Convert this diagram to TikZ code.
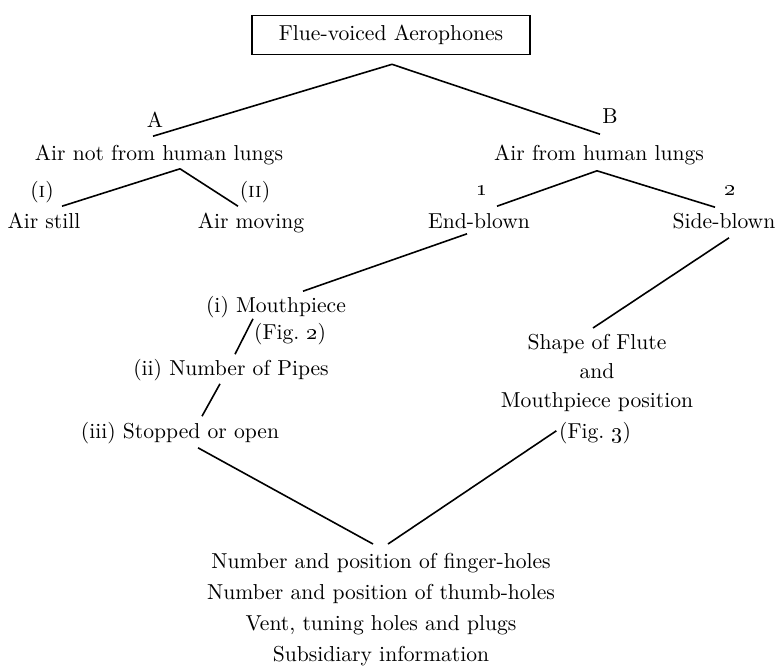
\documentclass[tikz,border=0pt]{standalone}
\usepackage{tikz}
\usetikzlibrary{positioning}

\begin{document}
\begin{tikzpicture}[x=0.5pt,y=-0.5pt,thick,node distance=6pt]
        \tikzstyle{every node}=[font=\fontsize{10.8}{14.5}\selectfont, inner sep=0pt]
        \tikzstyle{entry}=[text height=7pt, text depth=2pt]
        \useasboundingbox (0,0) rectangle (780,670);

        \node[draw, minimum width=139pt, minimum height=19.5pt] (title) at (391,35) {Flue-voiced Aerophones};

        \node[entry] (notlungs)  at (159,155) {Air not from human lungs};
        \node[entry] (lungs)     at (599,155) {Air from human lungs};
        \node[entry] (still)     at (44,223)  {Air still};
        \node[entry] (moving)    at (251,223) {Air moving};
        \node[entry] (endblown)  at (479,223) {End-blown};
        \node[entry] (sideblown) at (724,223) {Side-blown};
        \node[entry] (mouth)     at (276,307) {(i) Mouthpiece};
        \node[entry] (pipes)     at (231,370) {(ii) Number of Pipes};
        \node[entry] (stopped)   at (180,433) {(iii) Stopped or open};
        \node[align=center, anchor=north] (shape) at (597,333) {Shape of Flute\\and\\Mouthpiece position};
        \node[align=center, anchor=north, font=\fontsize{10.8}{15.5}\selectfont] (holes) at (381,552)
            {Number and position of finger-holes\\Number and position of thumb-holes\\Vent, tuning holes and plugs\\Subsidiary information};

        % marks over the branches
        \node[entry] (tagA)  [above=6.5pt of notlungs, xshift=-2pt]  {A};
        \node[entry] (tagB)  [above=8.5pt of lungs, xshift=5.5pt]    {B};
        \node[entry] (tagI)  [above=5.5pt of still, xshift=-1pt]     {(\textsc{i})};
        \node[entry] (tagII) [above=5.5pt of moving, xshift=2pt]     {(\textsc{ii})};
        \node[entry] (tag1)  [above=6.5pt of endblown, xshift=1.5pt] {\oldstylenums{1}};
        \node[entry] (tag2)  [above=6.5pt of sideblown, xshift=3pt]  {\oldstylenums{2}};
        \node[entry] (fig2)  [below=4pt of mouth, xshift=7pt]        {(Fig.~\oldstylenums{2})};
        \node[entry] (fig3)  [below=6pt of shape, xshift=-1pt]       {(Fig.~\oldstylenums{3})};

        \path ([xshift=0.5pt,yshift=-4.5pt]title.south) edge ([xshift=-3pt,yshift=4.5pt]notlungs.north)
              ([xshift=0.5pt,yshift=-4.5pt]title.south) edge ([xshift=0.5pt,yshift=5.5pt]lungs.north);
        \path ([xshift=10.5pt,yshift=-2pt]notlungs.south) edge ([xshift=9pt,yshift=3.5pt]still.north)
              ([xshift=10.5pt,yshift=-2pt]notlungs.south) edge ([xshift=-6.5pt,yshift=3.5pt]moving.north);
        \path ([xshift=-1pt,yshift=-3pt]lungs.south) edge ([xshift=9pt,yshift=3.5pt]endblown.north)
              ([xshift=-1pt,yshift=-3pt]lungs.south) edge ([xshift=-4.5pt,yshift=3pt]sideblown.north);
        \path ([xshift=-6pt,yshift=-0.5pt]endblown.south) edge ([xshift=13.5pt,yshift=3pt]mouth.north)
              ([xshift=-11.5pt,yshift=-1pt]mouth.south) edge ([xshift=2pt,yshift=3pt]pipes.north)
              ([xshift=-5.5pt,yshift=-2pt]pipes.south) edge ([xshift=11pt,yshift=3.5pt]stopped.north)
              ([xshift=9pt,yshift=-2.5pt]stopped.south) edge ([xshift=-4pt,yshift=4pt]holes.north);
        \path ([xshift=2.5pt,yshift=-2.5pt]sideblown.south) edge ([xshift=-2pt,yshift=2.5pt]shape.north)
              ([xshift=-1pt,yshift=1.5pt]fig3.west) edge ([xshift=3.5pt,yshift=4pt]holes.north);
\end{tikzpicture}
\end{document}
